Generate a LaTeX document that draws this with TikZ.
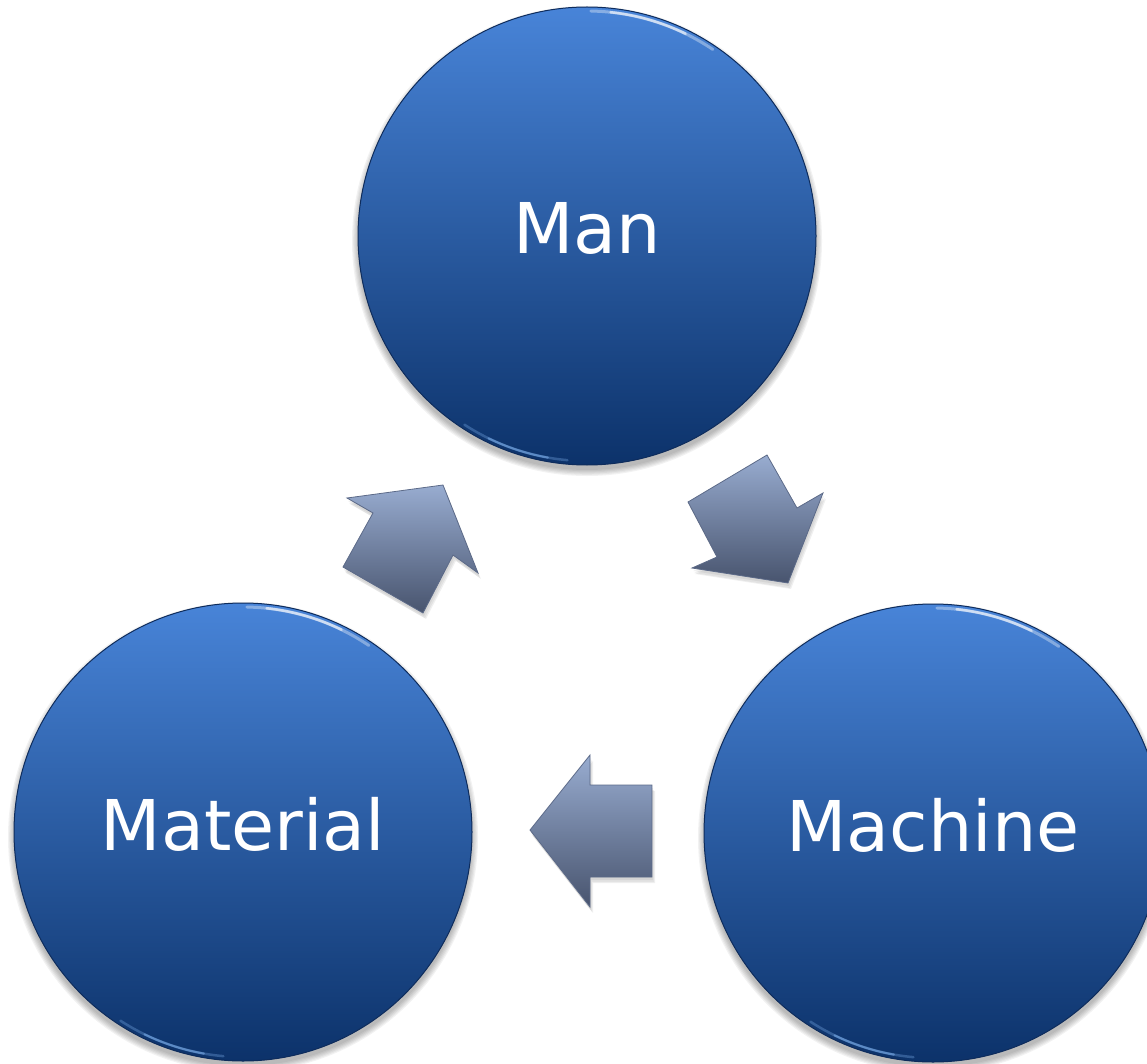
\documentclass[tikz,border=0pt]{standalone}
\usepackage{fontspec}
\setmainfont{DejaVu Sans}
\usetikzlibrary{calc}
\definecolor{ctop}{RGB}{72,132,216}
\definecolor{cbot}{RGB}{12,50,106}
\definecolor{cedge}{RGB}{14,44,92}
\definecolor{atop}{RGB}{152,172,208}
\definecolor{abot}{RGB}{72,84,110}
\definecolor{aedge}{RGB}{92,106,136}
\definecolor{glow}{RGB}{120,170,230}
\tikzset{
  circ/.style={circle, minimum size=458pt, inner sep=0pt, shade, top color=ctop, bottom color=cbot,
    draw=cedge, line width=1pt, text=white, font=\fontsize{70}{80}\selectfont},
  lbl/.style={text=white, font=\fontsize{70}{80}\selectfont, inner sep=0pt},
  blockarrow/.style={shade, top color=atop, bottom color=abot, draw=aedge, line width=0.8pt, line join=miter},
  arrowshadow/.style={fill=black, opacity=0.06},
}
\begin{document}
\begin{tikzpicture}[x=1pt,y=-1pt]
\useasboundingbox (0,0) rectangle (1147,1064);
% soft shadows under circles
\foreach \cx/\cy in {587/236, 243/832, 933/833}{
  \foreach \d in {0,1,2,3,4,5}{
    \fill[black, opacity=0.05] (\cx,\cy+5) circle ({229+\d*1.2});
  }
}
% circles
\node[circ] (man) at (587,236) {};
\node[circ] (material) at (243,832) {};
\node[circ] (machine) at (933,833) {};
\node[lbl] (manl) at ([yshift=8pt]man.center) {Man};
\node[lbl] (materiall) at ([yshift=8pt]material.center) {Material};
\node[lbl] (machinel) at ([yshift=8pt]machine.center) {Machine};
% highlights
\foreach \n in {man,material,machine}{
  \draw[white, opacity=0.35, line width=3pt, line cap=round]
    ($(\n.center)+(-89:225)$) arc[start angle=-89, end angle=-56, radius=225];
  \draw[white, opacity=0.6, line width=2.5pt, line cap=round]
    ($(\n.center)+(-84:225)$) arc[start angle=-84, end angle=-64, radius=225];
  \draw[glow, opacity=0.35, line width=2.5pt, line cap=round]
    ($(\n.center)+(95:225)$) arc[start angle=95, end angle=123, radius=225];
  \draw[glow, opacity=0.6, line width=2pt, line cap=round]
    ($(\n.center)+(100:225)$) arc[start angle=100, end angle=116, radius=225];
}
% arrow shadows
\foreach \dx/\dy in {1/3,2/5,3/6}{
  \fill[arrowshadow] (347+\dx,498+\dy) -- (443+\dx,485+\dy) -- (478+\dx,573+\dy) -- (453+\dx,555+\dy) -- (423+\dx,613+\dy) -- (343+\dx,567+\dy) -- (373+\dx,513+\dy) -- cycle;
  \fill[arrowshadow] (688+\dx,502+\dy) -- (767+\dx,455+\dy) -- (797+\dx,508+\dy) -- (823+\dx,493+\dy) -- (788+\dx,583+\dy) -- (692+\dx,568+\dy) -- (717+\dx,557+\dy) -- cycle;
  \fill[arrowshadow] (530+\dx,830+\dy) -- (590+\dx,755+\dy) -- (590+\dx,785+\dy) -- (652+\dx,785+\dy) -- (652+\dx,877+\dy) -- (590+\dx,877+\dy) -- (590+\dx,907+\dy) -- cycle;
}
% block arrows
\coordinate (a1) at (443,485);
\path[blockarrow] (347,498) -- (a1) -- (478,573) -- (453,555) -- (423,613) -- (343,567) -- (373,513) -- cycle;
\coordinate (a2) at (788,583);
\path[blockarrow] (688,502) -- (767,455) -- (797,508) -- (823,493) -- (a2) -- (692,568) -- (717,557) -- cycle;
\coordinate (a3) at (530,830);
\path[blockarrow] (a3) -- (590,755) -- (590,785) -- (652,785) -- (652,877) -- (590,877) -- (590,907) -- cycle;
\end{tikzpicture}
\end{document}
